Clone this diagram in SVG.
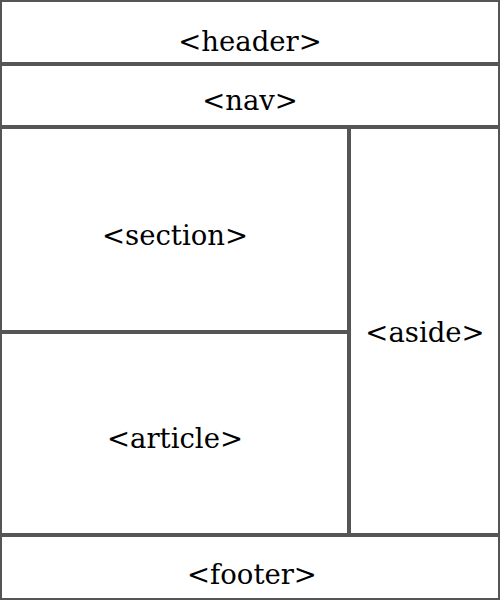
<svg xmlns="http://www.w3.org/2000/svg" width="500" height="600" viewBox="0 0 500 600">
<style>
.box{fill:#fff;stroke:#555;stroke-width:2}
.lbl{font-family:"DejaVu Serif","Liberation Serif",serif;font-size:27.5px;fill:#000;text-anchor:middle}
</style>
<rect width="500" height="600" fill="#fff"/>
<g id="header"><rect class="box" x="1" y="1" width="498" height="62"/><text class="lbl" x="250" y="51">&lt;header&gt;</text></g>
<g id="nav"><rect class="box" x="1" y="65" width="498" height="61"/><text class="lbl" x="250" y="110">&lt;nav&gt;</text></g>
<g id="section"><rect class="box" x="1" y="128" width="347" height="203"/><text class="lbl" x="175" y="245">&lt;section&gt;</text></g>
<g id="article"><rect class="box" x="1" y="333" width="347" height="201"/><text class="lbl" x="175" y="448">&lt;article&gt;</text></g>
<g id="aside"><rect class="box" x="350" y="128" width="149" height="406"/><text class="lbl" x="425" y="342">&lt;aside&gt;</text></g>
<g id="footer"><rect class="box" x="1" y="536" width="498" height="63"/><text class="lbl" x="252" y="584">&lt;footer&gt;</text></g>
<g id="connectors"/>
</svg>
